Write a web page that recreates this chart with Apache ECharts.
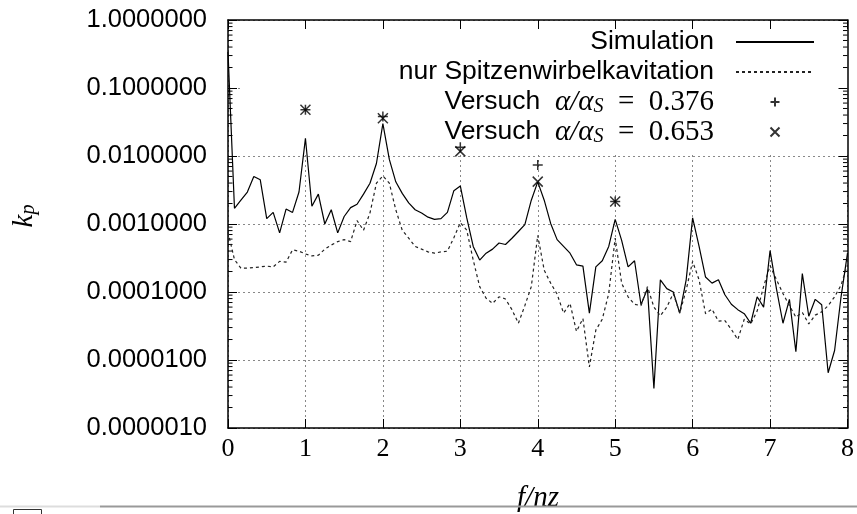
<!DOCTYPE html>
<html>
<head>
<meta charset="utf-8">
<script src="https://cdn.jsdelivr.net/npm/echarts@6/dist/echarts.min.js"></script>
<style>
  html, body { margin: 0; padding: 0; background: #fff; }
  #chart { width: 857px; height: 514px; }
</style>
</head>
<body>
<div id="chart"></div>
<script>
// Frequenz f/nz: Abtastung in Schritten von 1/12
var fStep = 1 / 12;

// k_p Simulation (durchgezogen)
var simKp = [
  0.34, 1.70e-3, 2.24e-3, 2.95e-3, 5.0e-3, 4.47e-3, 1.20e-3, 1.48e-3, 7.4e-4, 1.66e-3,
  1.48e-3, 2.95e-3, 1.82e-2, 1.82e-3, 2.75e-3, 1.0e-3, 1.62e-3, 7.4e-4, 1.29e-3, 1.74e-3,
  1.95e-3, 2.75e-3, 3.98e-3, 7.76e-3, 3.0e-2, 8.9e-3, 4.17e-3, 2.82e-3, 2.04e-3, 1.62e-3,
  1.45e-3, 1.26e-3, 1.17e-3, 1.20e-3, 1.48e-3, 3.09e-3, 3.63e-3, 1.23e-3, 4.68e-4, 2.95e-4,
  3.72e-4, 4.27e-4, 5.25e-4, 5.0e-4, 6.17e-4, 7.76e-4, 9.77e-4, 2.24e-3, 4.17e-3, 2.24e-3,
  1.02e-3, 5.89e-4, 4.68e-4, 3.72e-4, 2.51e-4, 2.40e-4, 4.9e-5, 2.34e-4, 2.88e-4, 4.68e-4,
  1.17e-3, 5.75e-4, 2.34e-4, 2.88e-4, 6.5e-5, 1.12e-4, 3.8e-6, 1.51e-4, 1.12e-4, 1.0e-4,
  4.9e-5, 1.51e-4, 1.23e-3, 4.68e-4, 1.66e-4, 1.35e-4, 1.51e-4, 9.1e-5, 6.6e-5, 5.5e-5,
  4.8e-5, 3.47e-5, 8.5e-5, 6.0e-5, 4.07e-4, 1.10e-4, 3.47e-5, 7.8e-5, 1.32e-5, 1.86e-4,
  4.4e-5, 7.8e-5, 6.5e-5, 6.5e-6, 1.38e-5, 8.5e-5, 3.72e-4
];

// k_p nur Spitzenwirbelkavitation (gestrichelt)
var tipKp = [
  7.6e-4, 3.0e-4, 2.24e-4, 2.24e-4, 2.29e-4, 2.34e-4, 2.40e-4, 2.34e-4, 2.82e-4, 2.75e-4,
  4.17e-4, 3.98e-4, 3.63e-4, 3.39e-4, 3.47e-4, 4.27e-4, 4.90e-4, 5.5e-4, 5.9e-4, 5.5e-4,
  1.12e-3, 8.1e-4, 1.45e-3, 3.98e-3, 5.1e-3, 3.98e-3, 1.62e-3, 8.1e-4, 6.2e-4, 4.68e-4,
  4.27e-4, 3.89e-4, 3.72e-4, 3.89e-4, 3.98e-4, 6.3e-4, 1.05e-3, 8.1e-4, 2.95e-4, 1.20e-4,
  8.1e-5, 6.8e-5, 8.5e-5, 7.9e-5, 5.5e-5, 3.47e-5, 6.3e-5, 1.20e-4, 6.8e-4, 2.09e-4,
  1.35e-4, 9.3e-5, 4.9e-5, 6.8e-5, 2.63e-5, 4.07e-5, 7.9e-6, 2.75e-5, 3.98e-5, 9.5e-5,
  6.2e-4, 1.35e-4, 8.5e-5, 6.6e-5, 6.3e-5, 1.20e-4, 6.0e-5, 4.47e-5, 6.0e-5, 9.5e-5,
  4.9e-5, 1.07e-4, 2.82e-4, 1.51e-4, 4.8e-5, 5.6e-5, 3.72e-5, 3.8e-5, 2.82e-5, 2.0e-5,
  3.98e-5, 3.39e-5, 5.25e-5, 1.20e-4, 2.45e-4, 1.51e-4, 9.5e-5, 6.3e-5, 4.27e-5, 5.0e-5,
  3.39e-5, 4.57e-5, 5.1e-5, 6.3e-5, 8.5e-5, 1.26e-4, 2.51e-4
];

// Versuche
var expF = [1, 2, 3, 4, 5];
var exp376 = [0.048, 0.038, 0.0135, 0.0074, 0.00214];
var exp653 = [0.048, 0.036, 0.0117, 0.0042, 0.00214];

var xTicks = [0, 1, 2, 3, 4, 5, 6, 7, 8];

var sansFont = '"Liberation Sans", Arial, sans-serif';
var serifFont = '"Liberation Serif", "DejaVu Serif", serif';

function pairs(xs, ys) {
  return ys.map(function(v, i) { return [xs[i], v]; });
}
function sampled(ys) {
  return ys.map(function(v, i) { return [i * fStep, v]; });
}

// logarithmische Nebenstriche 2..9 je Dekade
var minorTicks = [];
for (var e = -6; e < 0; e++) {
  for (var k = 2; k <= 9; k++) {
    minorTicks.push([0, k * Math.pow(10, e)]);
  }
}

var chart = echarts.init(document.getElementById('chart'), null, { renderer: 'canvas' });

var gridLine = { show: true, lineStyle: { color: '#888', width: 1, type: [2, 3] } };
var frame = { show: true, onZero: false, lineStyle: { color: '#000', width: 1.5 } };
var tickIn = { show: true, inside: true, length: 9, lineStyle: { color: '#000', width: 1 } };

var mathRich = {
  t: { fontFamily: sansFont, fontSize: 26.5, color: '#000', lineHeight: 30 },
  m: { fontFamily: serifFont, fontStyle: 'italic', fontSize: 29, color: '#000', lineHeight: 30 },
  s: { fontFamily: serifFont, fontStyle: 'italic', fontSize: 20, color: '#000', lineHeight: 30, verticalAlign: 'bottom', padding: [8, 0, 0, 0] },
  n: { fontFamily: serifFont, fontSize: 29, color: '#000', lineHeight: 30 }
};

var legendText = {
  'Simulation': '{t|Simulation}',
  'nur Spitzenwirbelkavitation': '{t|nur Spitzenwirbelkavitation}',
  'Versuch 0.376': '{t|Versuch  }{m|α/α}{s|S}{n|  =  0.376}',
  'Versuch 0.653': '{t|Versuch  }{m|α/α}{s|S}{n|  =  0.653}'
};

var option = {
  animation: false,
  backgroundColor: '#fff',
  grid: { left: 228, right: 8.5, top: 20, bottom: 86, containLabel: false },
  legend: {
    orient: 'vertical',
    align: 'right',
    right: 42,
    top: 27,
    padding: 0,
    itemGap: 0,
    itemWidth: 78,
    itemHeight: 9,
    selectedMode: false,
    data: [
      { name: 'Simulation', itemStyle: { opacity: 0 } },
      { name: 'nur Spitzenwirbelkavitation', itemStyle: { opacity: 0 } },
      'Versuch 0.376',
      'Versuch 0.653'
    ],
    formatter: function(name) { return legendText[name]; },
    textStyle: { padding: [0, 17, 0, 0], lineHeight: 30, rich: mathRich }
  },
  xAxis: [{
    type: 'value', min: 0, max: 8, interval: 1, position: 'bottom',
    axisLine: frame, axisTick: tickIn, splitLine: gridLine,
    axisLabel: {
      margin: 8, color: '#000', fontFamily: serifFont, fontSize: 26,
      customValues: xTicks
    }
  }, {
    type: 'value', min: 0, max: 8, interval: 1, position: 'top', z: 3,
    axisLine: frame, axisTick: tickIn, splitLine: { show: false },
    axisLabel: { show: false }
  }],
  yAxis: [{
    type: 'log', logBase: 10, min: 1e-6, max: 1, position: 'left',
    axisLine: frame, axisTick: tickIn, splitLine: gridLine,
    axisLabel: {
      margin: 21, color: '#000', fontFamily: sansFont, fontSize: 25.5,
      formatter: function(v) { return v.toFixed(7); }
    }
  }, {
    type: 'log', logBase: 10, min: 1e-6, max: 1, position: 'right', z: 3,
    axisLine: frame, axisTick: tickIn, splitLine: { show: false },
    axisLabel: { show: false }
  }],
  graphic: [
    // opaker Legendenbereich verdeckt das Gitter oben
    { type: 'rect', z: 1, silent: true, shape: { x: 242, y: 21.5, width: 606, height: 130.5 }, style: { fill: '#fff' } },
    {
      type: 'text', z: 5, x: 24, y: 216, rotation: Math.PI / 2,
      style: {
        text: '{k|k}{p|p}', align: 'center', verticalAlign: 'middle',
        rich: {
          k: { fontFamily: serifFont, fontStyle: 'italic', fontSize: 29, color: '#000' },
          p: { fontFamily: serifFont, fontStyle: 'italic', fontSize: 20, color: '#000', verticalAlign: 'bottom', padding: [10, 0, 0, 0] }
        }
      }
    },
    {
      type: 'text', z: 5, x: 538, y: 498,
      style: { text: 'f/nz', align: 'center', verticalAlign: 'middle', fontFamily: serifFont, fontStyle: 'italic', fontSize: 29, fill: '#000' }
    },
    { type: 'line', z: 6, shape: { x1: 0, y1: 506.5, x2: 100, y2: 506.5 }, style: { stroke: '#ddd', lineWidth: 2 } },
    { type: 'line', z: 6, shape: { x1: 100, y1: 506.5, x2: 857, y2: 506.5 }, style: { stroke: '#999', lineWidth: 2 } },
    { type: 'polyline', z: 6, shape: { points: [[13.5, 514], [13.5, 509.5], [41.5, 509.5], [41.5, 514]] }, style: { stroke: '#333', lineWidth: 1, fill: null } }
  ],
  series: [{
    name: 'Simulation',
    type: 'line',
    data: sampled(simKp),
    symbol: 'none',
    z: 3,
    lineStyle: { color: '#000', width: 1.2 },
    itemStyle: { color: '#000' },
    emphasis: { disabled: true }
  }, {
    name: 'nur Spitzenwirbelkavitation',
    type: 'line',
    data: sampled(tipKp),
    symbol: 'none',
    z: 3,
    lineStyle: { color: '#222', width: 1.2, type: [3, 3] },
    itemStyle: { color: '#222' },
    emphasis: { disabled: true }
  }, {
    name: 'Versuch 0.376',
    type: 'scatter',
    data: pairs(expF, exp376),
    symbol: 'path://M5,0L5,10M0,5L10,5',
    symbolSize: 10,
    z: 4,
    itemStyle: { color: 'none', borderColor: '#000', borderWidth: 1.5 },
    emphasis: { disabled: true }
  }, {
    name: 'Versuch 0.653',
    type: 'scatter',
    data: pairs(expF, exp653),
    symbol: 'path://M0,0L10,10M10,0L0,10',
    symbolSize: 10,
    z: 4,
    itemStyle: { color: 'none', borderColor: '#000', borderWidth: 1.5 },
    emphasis: { disabled: true }
  }, {
    name: 'minorTicks',
    type: 'custom',
    silent: true,
    z: 3,
    clip: false,
    data: minorTicks,
    renderItem: function(params, api) {
      var l = api.coord([0, api.value(1)]);
      var r = api.coord([8, api.value(1)]);
      return {
        type: 'group',
        children: [
          { type: 'line', shape: { x1: l[0], y1: l[1], x2: l[0] + 4.5, y2: l[1] }, style: { stroke: '#000', lineWidth: 1 } },
          { type: 'line', shape: { x1: r[0] - 4.5, y1: r[1], x2: r[0], y2: r[1] }, style: { stroke: '#000', lineWidth: 1 } }
        ]
      };
    }
  }]
};

chart.setOption(option);
</script>
</body>
</html>
